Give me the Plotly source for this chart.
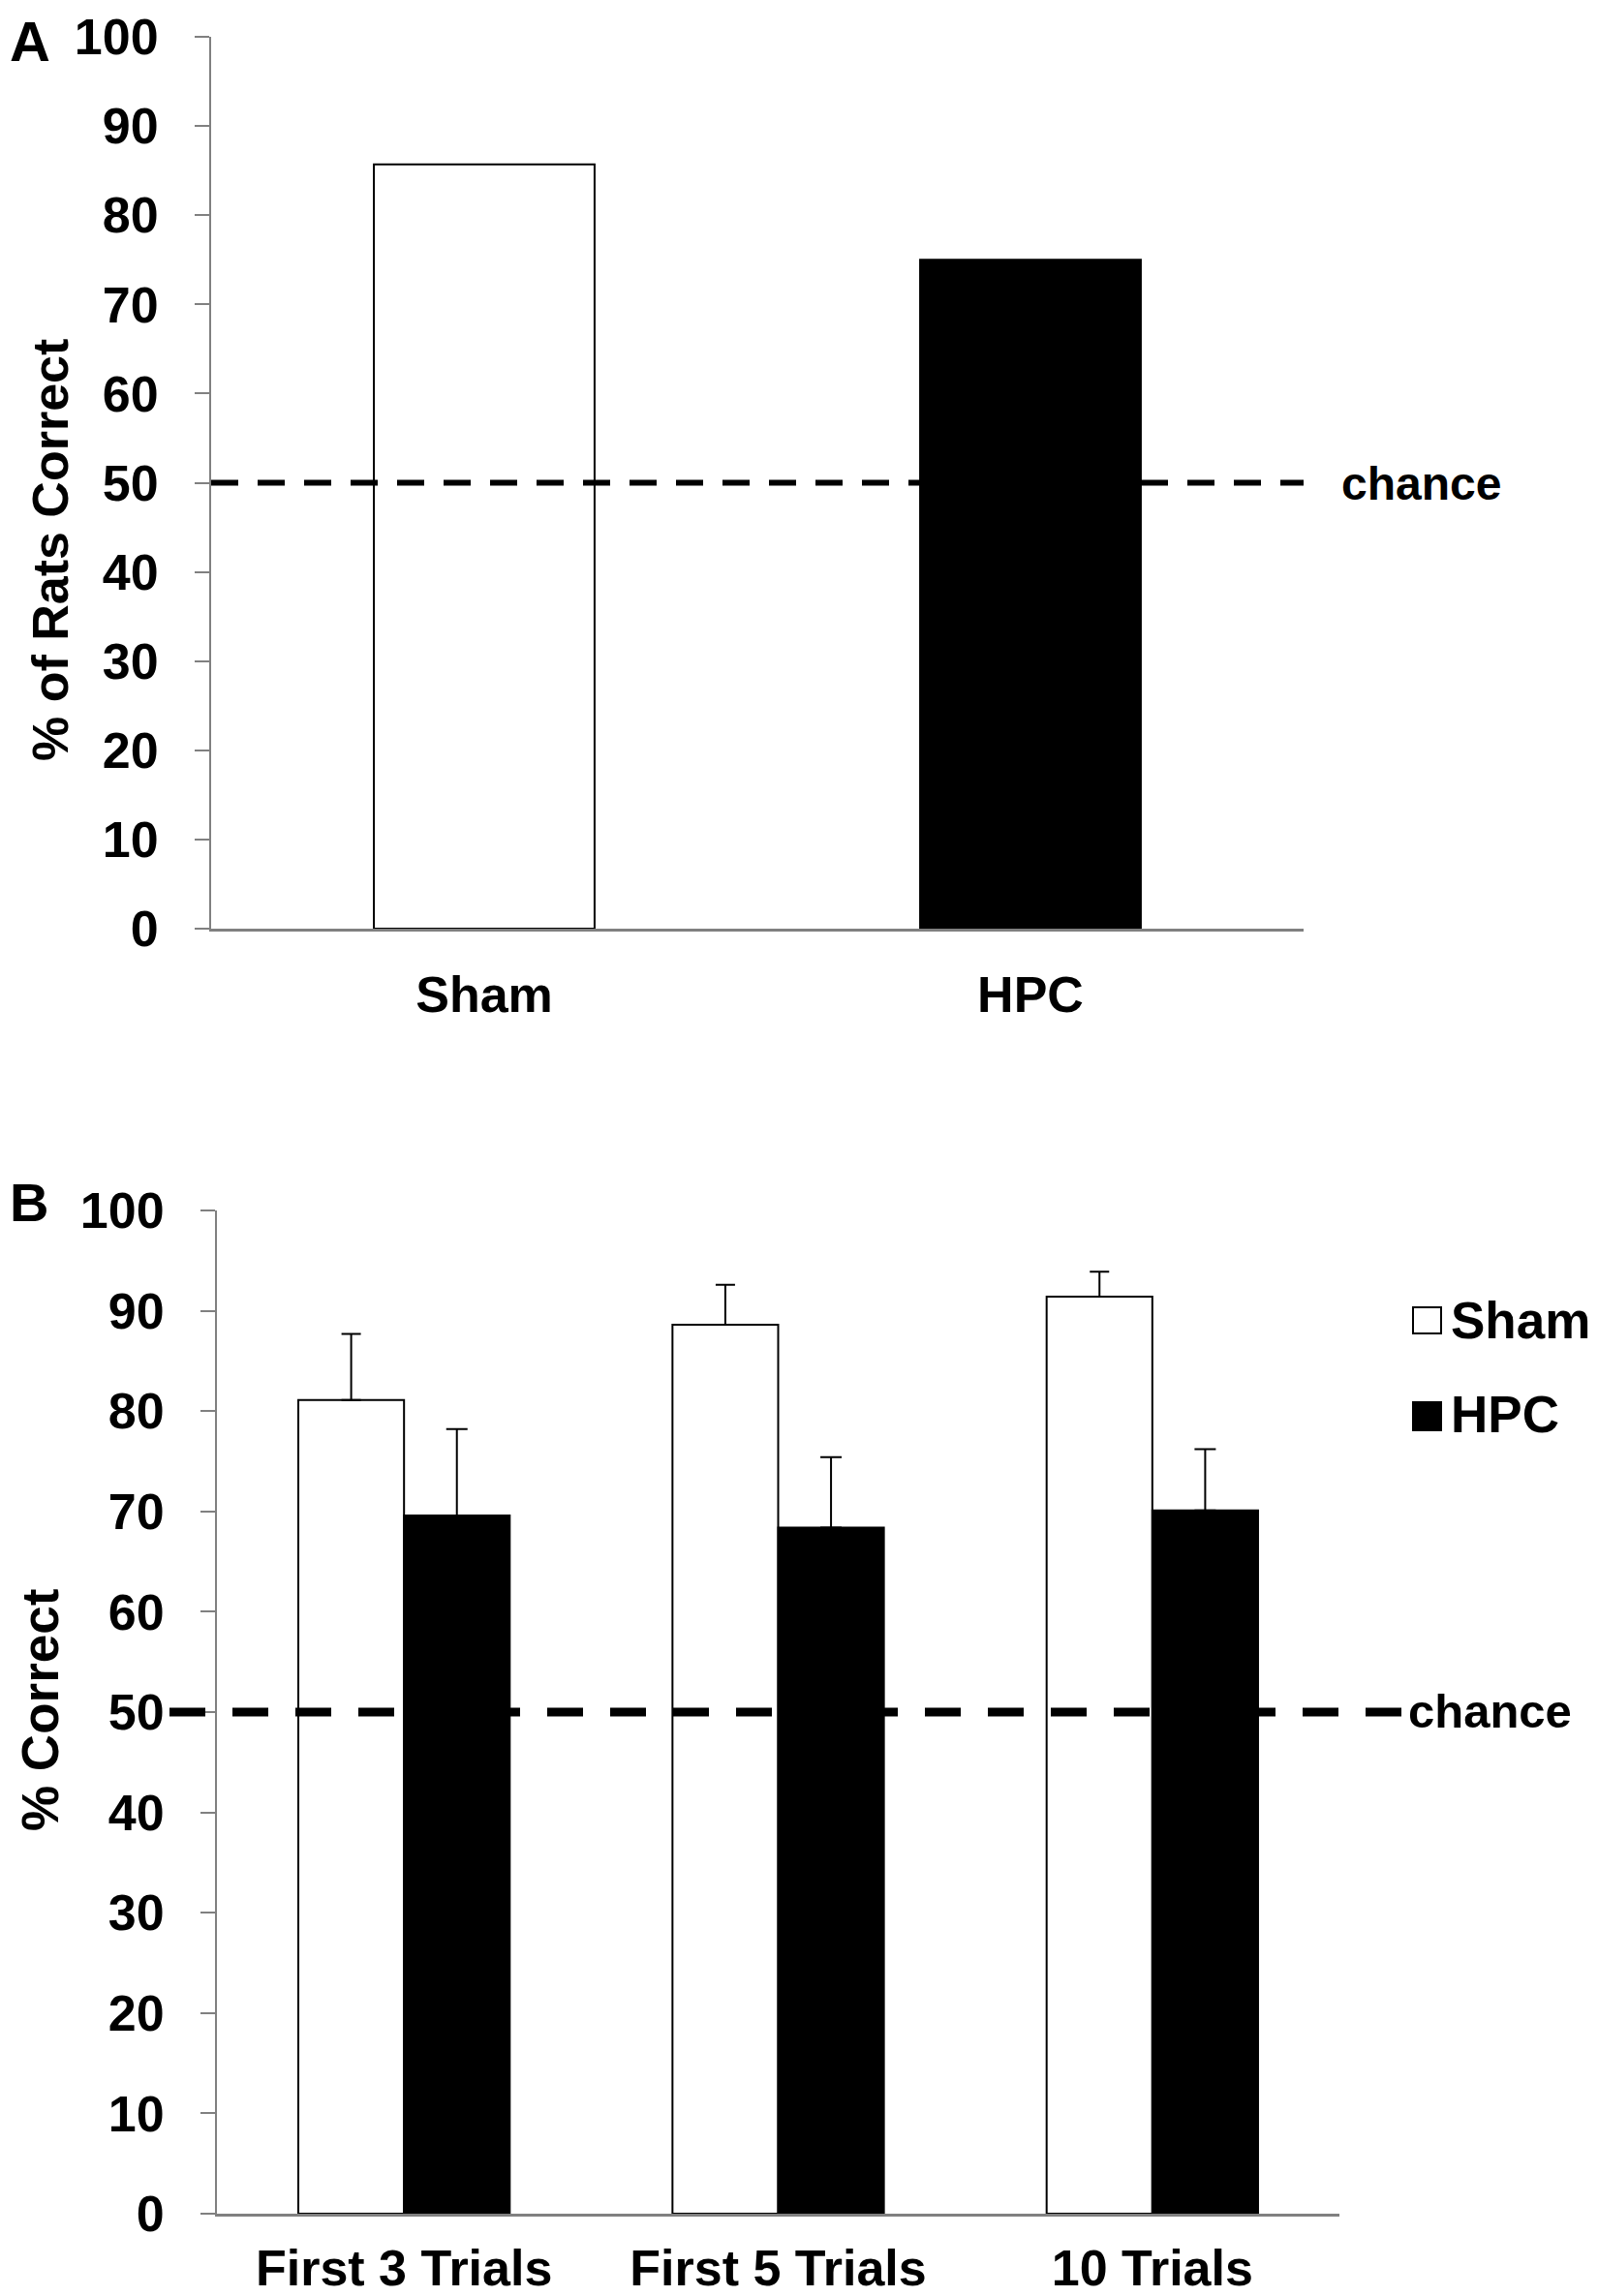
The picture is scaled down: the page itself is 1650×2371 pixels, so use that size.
import plotly.graph_objects as go

# ---------------- data ----------------
groups_a = ["Sham", "HPC"]
pct_rats_correct = [85.7, 75.0]

trial_blocks = ["First 3 Trials", "First 5 Trials", "10 Trials"]
sham_correct = [81.1, 88.6, 91.4]
sham_sem = [6.6, 4.0, 2.5]
hpc_correct = [69.6, 68.4, 70.1]
hpc_sem = [8.6, 7.0, 6.1]

CHANCE = 50
y_ticks = [0, 10, 20, 30, 40, 50, 60, 70, 80, 90, 100]

# ---------------- style ----------------
W, H = 1650, 2371
FONT = "Liberation Sans, Arial, Helvetica, sans-serif"
AXIS_GREY = "#808080"


def px(x):
    return x / W


def py(y):
    return 1 - y / H


fig = go.Figure()

# Panel A
fig.add_trace(go.Bar(
    x=groups_a, y=pct_rats_correct, width=0.404,
    marker=dict(color=["white", "black"], line=dict(color="black", width=2)),
    xaxis="x", yaxis="y", showlegend=False,
))

# Panel B
fig.add_trace(go.Bar(
    name="Sham", x=trial_blocks, y=sham_correct,
    marker=dict(color="white", line=dict(color="black", width=2)),
    error_y=dict(type="data", symmetric=False, array=sham_sem,
                 arrayminus=[0] * len(sham_sem), color="black",
                 thickness=2, width=10),
    xaxis="x2", yaxis="y2", showlegend=False,
))
fig.add_trace(go.Bar(
    name="HPC", x=trial_blocks, y=hpc_correct,
    marker=dict(color="black", line=dict(color="black", width=2)),
    error_y=dict(type="data", symmetric=False, array=hpc_sem,
                 arrayminus=[0] * len(hpc_sem), color="black",
                 thickness=2, width=11),
    xaxis="x2", yaxis="y2", showlegend=False,
))

tickfont = dict(family=FONT, size=52, color="black", weight="bold")

yaxis_common = dict(
    range=[0, 100], tickvals=y_ticks, showgrid=False, zeroline=False,
    showline=True, linecolor=AXIS_GREY, linewidth=2,
    ticks="outside", ticklen=15, tickwidth=2, tickcolor=AXIS_GREY,
    tickfont=tickfont, ticklabelstandoff=27, fixedrange=True,
    automargin=False, ticklabeloverflow="allow",
)
xaxis_common = dict(
    showgrid=False, zeroline=False, showline=True, linecolor=AXIS_GREY,
    linewidth=3, ticks="", tickfont=tickfont, fixedrange=True,
    automargin=False, ticklabeloverflow="allow",
)

fig.update_layout(
    width=W, height=H,
    margin=dict(l=0, r=0, t=0, b=0, pad=0, autoexpand=False),
    paper_bgcolor="white", plot_bgcolor="white",
    barmode="group",
    xaxis=dict(domain=[px(210), px(1338)], anchor="y",
               ticklabelstandoff=21, **xaxis_common),
    yaxis=dict(domain=[py(951), py(30)], anchor="x", **yaxis_common),
    xaxis2=dict(domain=[px(216), px(1375)], anchor="y2",
                ticklabelstandoff=9, **xaxis_common),
    yaxis2=dict(domain=[py(2278), py(1242)], anchor="x2", **yaxis_common),
    bargap=0.435,
)

# chance lines
fig.add_shape(type="line", xref="x domain", yref="y", x0=0, x1=1,
              y0=CHANCE, y1=CHANCE, layer="above",
              line=dict(color="black", width=6, dash="28px,20px"))
fig.add_shape(type="line", xref="paper", yref="y2", x0=px(167), x1=px(1441),
              y0=CHANCE, y1=CHANCE, layer="above",
              line=dict(color="black", width=9, dash="37px,28px"))

annots = [
    dict(text="A", x=px(0), y=py(0), xanchor="left", yanchor="top", size=58),
    dict(text="B", x=px(0), y=py(1200), xanchor="left", yanchor="top", size=56),
    dict(text="chance", x=px(1375), y=py(491), xanchor="left", yanchor="middle", size=48),
    dict(text="chance", x=px(1444), y=py(1759), xanchor="left", yanchor="middle", size=49),
    dict(text="Sham", x=px(1488), y=py(1355), xanchor="left", yanchor="middle", size=53),
    dict(text="HPC", x=px(1488), y=py(1452), xanchor="left", yanchor="middle", size=53),
]
for a in annots:
    fig.add_annotation(
        text=a["text"], x=a["x"], y=a["y"], xref="paper", yref="paper",
        xanchor=a["xanchor"], yanchor=a["yanchor"], showarrow=False,
        font=dict(family=FONT, size=a["size"], color="black", weight="bold"),
    )

# axis titles
fig.add_annotation(text="% of Rats Correct", x=px(44), y=py(560), xref="paper",
                   yref="paper", textangle=-90, showarrow=False,
                   xanchor="center", yanchor="middle",
                   font=dict(family=FONT, size=52, color="black", weight="bold"))
fig.add_annotation(text="% Correct", x=px(33), y=py(1758), xref="paper",
                   yref="paper", textangle=-90, showarrow=False,
                   xanchor="center", yanchor="middle",
                   font=dict(family=FONT, size=53, color="black", weight="bold"))

# legend swatches
fig.add_shape(type="rect", xref="paper", yref="paper", x0=px(1451), x1=px(1480),
              y0=py(1369), y1=py(1342), fillcolor="white",
              line=dict(color="black", width=2))
fig.add_shape(type="rect", xref="paper", yref="paper", x0=px(1451), x1=px(1480),
              y0=py(1469), y1=py(1440), fillcolor="black",
              line=dict(color="black", width=2))

fig.write_html("out.html")
